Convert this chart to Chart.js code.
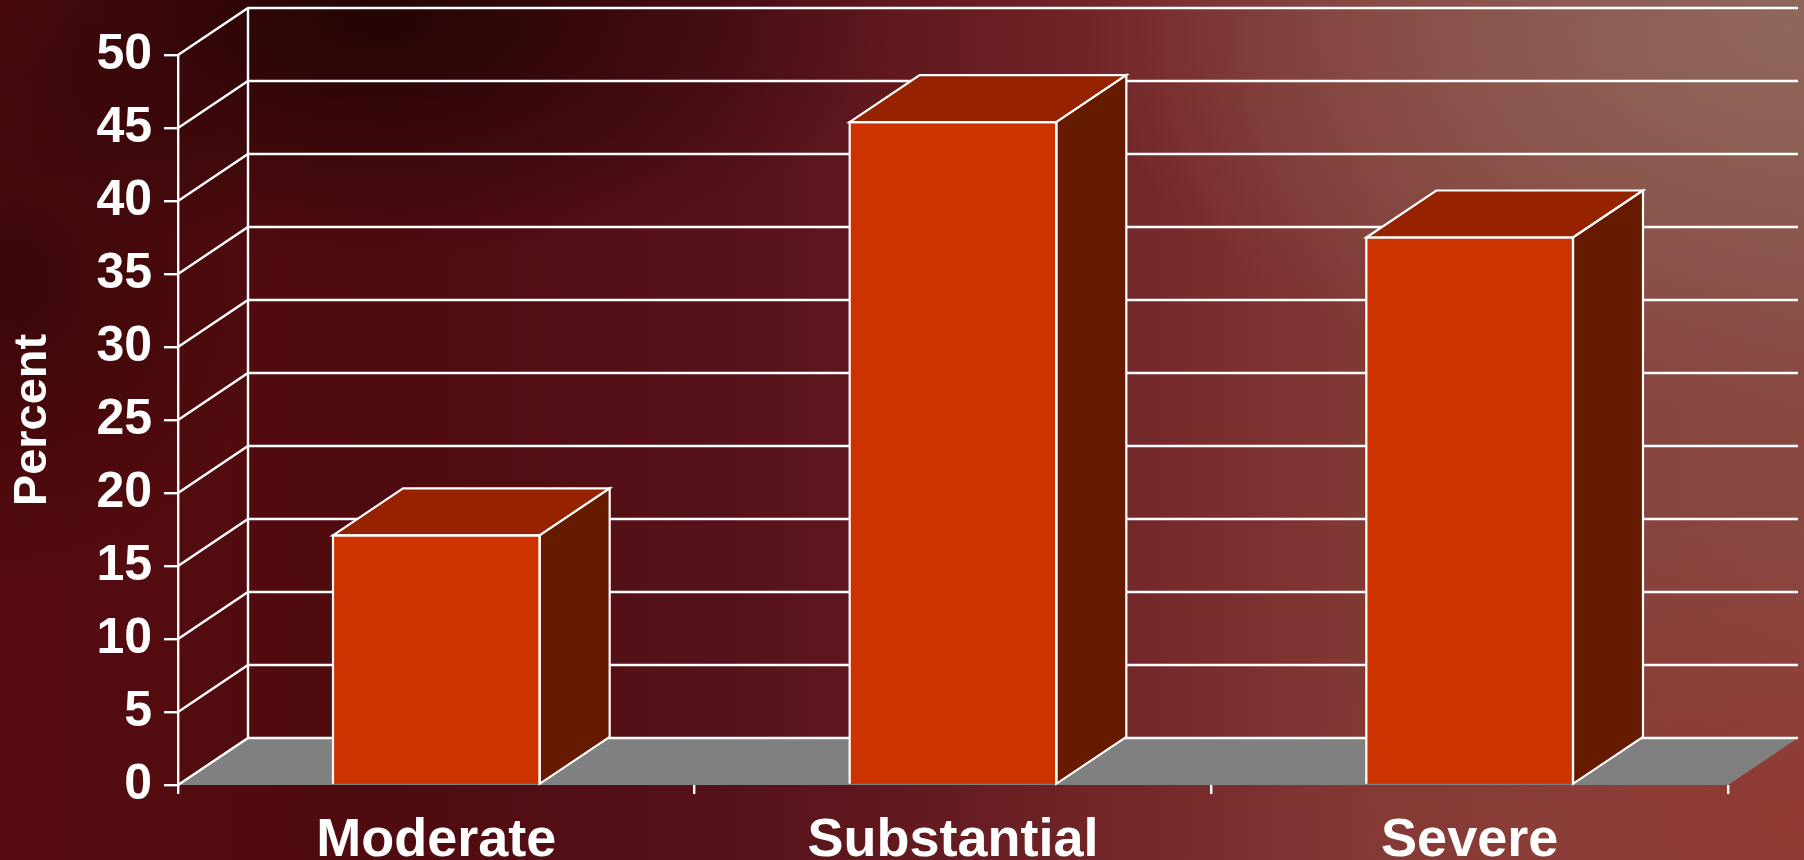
<!DOCTYPE html>
<html>
<head>
<meta charset="utf-8">
<script src="https://cdn.jsdelivr.net/npm/chart.js@4.4.1/dist/chart.umd.min.js"></script>
<style>
html,body{margin:0;padding:0;width:1804px;height:860px;overflow:hidden;}
body{
  background:
    radial-gradient(ellipse 520px 240px at 380px 20px, rgba(28,3,3,0.85), rgba(28,3,3,0) 100%),
    radial-gradient(ellipse 260px 300px at 10px 280px, rgba(35,3,3,0.55), rgba(35,3,3,0) 100%),
    radial-gradient(ellipse 700px 380px at 1790px 30px, rgba(145,110,96,0.85), rgba(145,110,96,0) 100%),
    radial-gradient(ellipse 520px 300px at 1804px 820px, rgba(150,50,46,0.65), rgba(150,50,46,0) 100%),
    linear-gradient(to right, #560b0f 0%, #4f0b0f 22%, #56111a 40%, #641b20 52%, #76292a 64%, #823a35 76%, #86433c 88%, #884840 100%);
}
canvas{display:block;}
</style>
</head>
<body>
<canvas id="c" width="1804" height="860"></canvas>
<script>
// ---- data ----
const categories = ['Moderate', 'Substantial', 'Severe'];
const percentValues = [17.1, 45.4, 37.5];
const yTickValues = [0, 5, 10, 15, 20, 25, 30, 35, 40, 45, 50];
const yAxisTitle = 'Percent';

// ---- style ----
const DEPTH_X = 70, DEPTH_Y = -47;
const FRONT = '#cc3300', TOP = '#962200', SIDE = '#661a00', FLOOR = '#808080';
const FONT = '"Liberation Sans", Arial, sans-serif';

function poly(ctx, pts, fill) {
  ctx.beginPath();
  ctx.moveTo(pts[0][0], pts[0][1]);
  for (let i = 1; i < pts.length; i++) ctx.lineTo(pts[i][0], pts[i][1]);
  ctx.closePath();
  if (fill) { ctx.fillStyle = fill; ctx.fill(); }
  ctx.stroke();
}

const threeD = {
  id: 'threeD',
  beforeDatasetsDraw(chart) {
    const { ctx, scales: { x, y }, chartArea: a } = chart;
    const yb = y.getPixelForValue(0);
    ctx.save();
    ctx.beginPath();
    ctx.moveTo(a.left, yb); ctx.lineTo(a.right, yb);
    ctx.lineTo(a.right + DEPTH_X, yb + DEPTH_Y); ctx.lineTo(a.left + DEPTH_X, yb + DEPTH_Y);
    ctx.closePath();
    ctx.fillStyle = FLOOR; ctx.fill();
    ctx.strokeStyle = '#ffffff'; ctx.lineWidth = 2.4;
    y.ticks.forEach(t => {
      const py = y.getPixelForValue(t.value);
      ctx.beginPath();
      ctx.moveTo(a.left, py);
      ctx.lineTo(a.left + DEPTH_X, py + DEPTH_Y);
      ctx.lineTo(a.right + DEPTH_X, py + DEPTH_Y);
      ctx.stroke();
    });
    ctx.beginPath();
    ctx.moveTo(a.left + DEPTH_X, y.getPixelForValue(y.max) + DEPTH_Y);
    ctx.lineTo(a.left + DEPTH_X, yb + DEPTH_Y);
    ctx.stroke();
    ctx.restore();
  },
  afterDatasetsDraw(chart) {
    const { ctx } = chart;
    const meta = chart.getDatasetMeta(0);
    ctx.save();
    ctx.strokeStyle = '#ffffff'; ctx.lineWidth = 2.2; ctx.lineJoin = 'miter';
    meta.data.forEach(bar => {
      const p = bar.getProps(['x', 'y', 'base', 'width'], true);
      const l = p.x - p.width / 2, r = p.x + p.width / 2, t = p.y, b = p.base;
      poly(ctx, [[l, t], [r, t], [r + DEPTH_X, t + DEPTH_Y], [l + DEPTH_X, t + DEPTH_Y]], TOP);
      poly(ctx, [[r, t], [r + DEPTH_X, t + DEPTH_Y], [r + DEPTH_X, b + DEPTH_Y], [r, b]], SIDE);
      ctx.beginPath();
      ctx.moveTo(l, b); ctx.lineTo(l, t); ctx.lineTo(r, t); ctx.lineTo(r, b);
      ctx.stroke();
    });
    ctx.restore();
  }
};

new Chart(document.getElementById('c'), {
  type: 'bar',
  data: {
    labels: categories,
    datasets: [{
      data: percentValues,
      backgroundColor: FRONT,
      borderWidth: 0,
      barPercentage: 0.4,
      categoryPercentage: 1.0
    }]
  },
  options: {
    responsive: false,
    animation: false,
    devicePixelRatio: 1,
    layout: { padding: { top: 55, right: 76, left: 0, bottom: 0 } },
    plugins: { legend: { display: false }, tooltip: { enabled: false } },
    scales: {
      x: {
        offset: true,
        grid: { offset: true, drawOnChartArea: false, drawTicks: true, tickLength: 9, color: '#ffffff', lineWidth: 2.4 },
        border: { display: false },
        ticks: { color: '#ffffff', padding: 15, maxRotation: 0, font: { family: FONT, size: 54, weight: 'bold' } },
        afterFit(s) { s.height = 75; }
      },
      y: {
        min: 0, max: 50,
        afterBuildTicks(s) { s.ticks = yTickValues.map(v => ({ value: v })); },
        grid: { drawOnChartArea: false, drawTicks: true, tickLength: 14, color: '#ffffff', lineWidth: 2.4 },
        border: { display: true, color: '#ffffff', width: 2.4 },
        ticks: { color: '#ffffff', padding: 12, font: { family: FONT, size: 50, weight: 'bold' } },
        title: { display: true, text: yAxisTitle, color: '#ffffff', padding: { top: 5, bottom: 0 }, font: { family: FONT, size: 47, weight: 'bold' } },
        afterFit(s) { s.width = 178; }
      }
    }
  },
  plugins: [threeD]
});
</script>
</body>
</html>
